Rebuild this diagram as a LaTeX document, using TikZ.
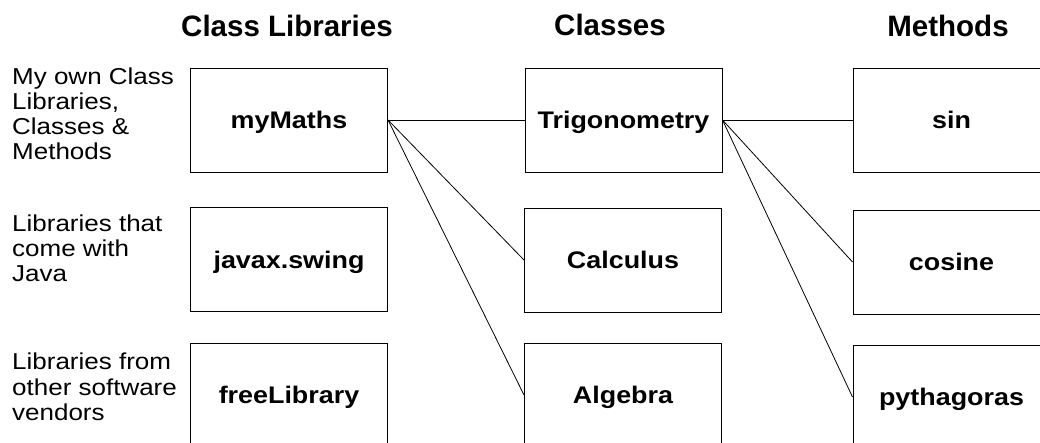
\documentclass[tikz,border=0pt]{standalone}
\usepackage{fontspec}
\setmainfont{Liberation Sans}
\newfontfamily\sidefont[FakeStretch=1.13]{Liberation Sans}
\newfontfamily\boxfont[FakeStretch=1.12]{Liberation Sans}
\begin{document}
\begin{tikzpicture}[x=1pt,y=-1pt,
  box/.style={draw, line width=1pt, minimum width=197pt, minimum height=104pt, inner sep=0pt,
    font=\boxfont\fontsize{24}{28}\selectfont\bfseries, text height=17pt, text depth=0pt},
  head/.style={font=\fontsize{29.5}{34}\selectfont\bfseries, anchor=base, inner sep=0pt},
  side/.style={font=\sidefont\fontsize{23}{25.2}\selectfont, align=left, anchor=north west, inner sep=0pt},
  link/.style={line width=0.8pt}]
\clip (0,0) rectangle (1040,442);
% headings
\node[head] (h1) at (287,36.7) {Class Libraries};
\node[head] (h2) at (610,35.5) {Classes};
\node[head] (h3) at (948,36) {Methods};
% side notes
\node[side] (s1) at (12,67.5) {My own Class\\Libraries,\\Classes \&\\Methods};
\node[side] (s2) at (12,214.5) {Libraries that\\come with\\Java};
\node[side] (s3) at (12,353) {Libraries from\\other software\\vendors};
% boxes
\node[box] (lib1) at (289,120) {myMaths};
\node[box] (lib2) at (289,259.5) {javax.swing};
\node[box] (lib3) at (289,395) {freeLibrary};
\node[box] (cls1) at (623.5,120) {Trigonometry};
\node[box] (cls2) at (623,260) {Calculus};
\node[box] (cls3) at (623,395) {Algebra};
\node[box] (met1) at (951.5,120) {sin};
\node[box] (met2) at (951.5,262) {cosine};
\node[box] (met3) at (951.5,397) {pythagoras};
% connectors
\draw[link] (lib1.east) -- (cls1.west);
\draw[link] (lib1.east) -- (cls2.west);
\draw[link] (lib1.east) -- (cls3.west);
\draw[link] (cls1.east) -- (met1.west);
\draw[link] (cls1.east) -- (met2.west);
\draw[link] (cls1.east) -- (met3.west);
\end{tikzpicture}
\end{document}
